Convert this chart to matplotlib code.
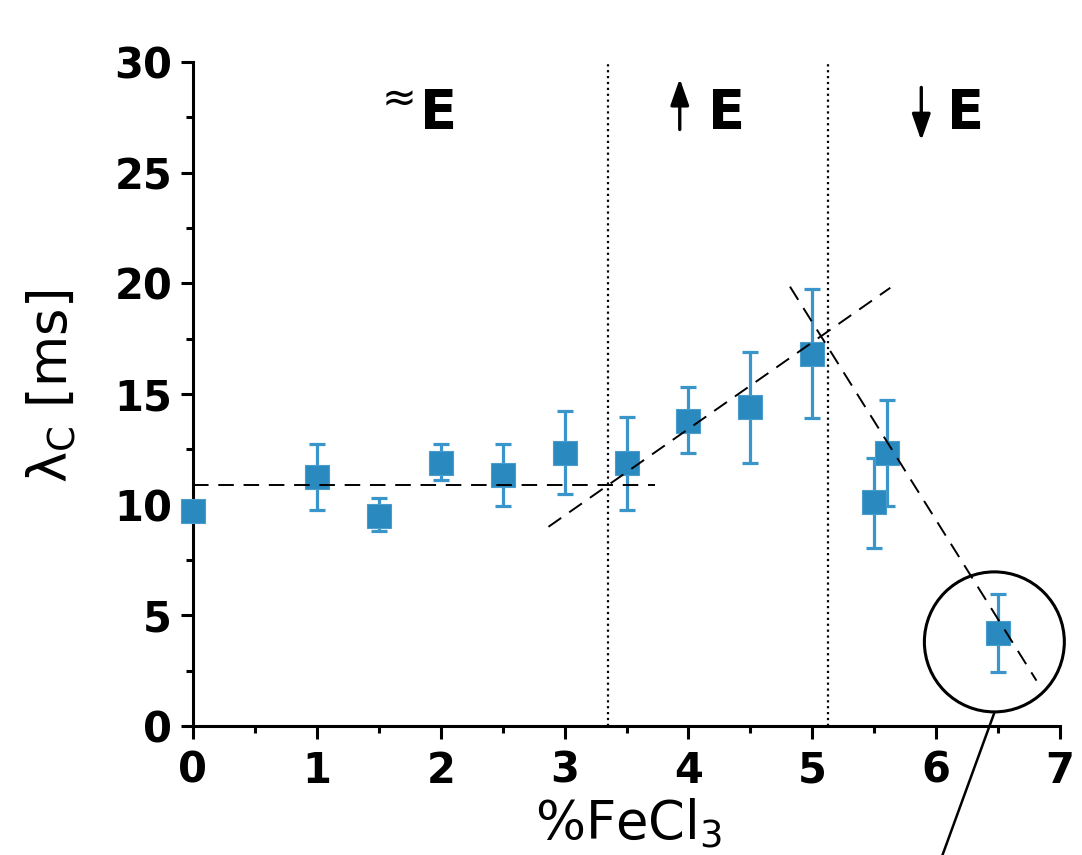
import matplotlib
matplotlib.use("Agg")
import matplotlib.pyplot as plt
from matplotlib.patches import Ellipse
import numpy as np

# ---------------- data ----------------
fecl3 = [0, 1, 1.5, 2, 2.5, 3, 3.5, 4, 4.5, 5, 5.5, 5.6, 6.5]
lam_c = [9.7, 11.25, 9.5, 11.9, 11.35, 12.35, 11.9, 13.8, 14.4, 16.8, 10.1, 12.35, 4.2]
err_hi = [9.95, 12.75, 10.3, 12.75, 12.75, 14.25, 13.95, 15.3, 16.9, 19.75, 12.1, 14.75, 5.95]
err_lo = [9.45, 9.75, 8.8, 11.1, 9.95, 10.5, 9.75, 12.35, 11.9, 13.9, 8.05, 9.95, 2.45]

# trend lines (start x, start y, end x, end y)
trend_flat = (0.0, 10.9, 3.73, 10.9)
trend_up = (2.87, 9.0, 5.63, 19.8)
trend_down = (4.82, 19.85, 6.81, 2.05)

# region boundaries
boundaries = [3.35, 5.13]

x_ticks = [0, 1, 2, 3, 4, 5, 6, 7]
y_ticks = [0, 5, 10, 15, 20, 25, 30]

# ---------------- figure ----------------
W, H = 1082, 855
fig = plt.figure(figsize=(W / 100, H / 100), dpi=100)
ax = fig.add_axes([193 / W, 1 - 726 / H, (1060 - 193) / W, (726 - 62) / H])

blue = "#2a89be"
blue_err = "#3a95ca"

y = np.array(lam_c)
yerr = np.vstack([y - np.array(err_lo), np.array(err_hi) - y])
ax.errorbar(fecl3, lam_c, yerr=yerr, fmt="none", ecolor=blue_err,
            elinewidth=2.3, capsize=5.5, capthick=2.3, zorder=2, clip_on=False)
ax.plot(fecl3, lam_c, ls="none", marker="s", ms=17.5, mfc=blue, mec="#4a9ccc",
        mew=0.8, zorder=3, clip_on=False)

for (x0, y0, x1, y1) in (trend_flat, trend_up, trend_down):
    ax.plot([x0, x1], [y0, y1], color="black", lw=1.4, dashes=(8, 5), zorder=4)

for xb in boundaries:
    ax.plot([xb, xb], [0, 30], color="black", lw=1.6, ls=":", zorder=1)

# circle highlight + leader line
circ = Ellipse((6.47, 3.8), width=140 / 123.9, height=140 / 22.13, fill=False,
               edgecolor="black", lw=2.2, clip_on=False, zorder=5)
ax.add_patch(circ)
ax.plot([6.47, 6.05], [0.6, -5.85], color="black", lw=1.8, clip_on=False, zorder=5)

# region labels
ax.text(1.66, 28.3, "≈", fontsize=30, ha="center", va="center")
ax.text(1.83, 27.0, "E", fontsize=39, fontweight="bold", ha="left", va="baseline")
ax.text(4.16, 27.0, "E", fontsize=39, fontweight="bold", ha="left", va="baseline")
ax.text(6.09, 27.0, "E", fontsize=39, fontweight="bold", ha="left", va="baseline")
ap = dict(arrowstyle="-|>,head_length=0.8,head_width=0.28", color="black",
          lw=2.4, shrinkA=0, shrinkB=0, mutation_scale=20)
ax.annotate("", xy=(3.93, 29.25), xytext=(3.93, 26.95), arrowprops=ap)
ax.annotate("", xy=(5.88, 26.45), xytext=(5.88, 28.85), arrowprops=ap)

# axes styling
ax.set_xlim(0, 7)
ax.set_ylim(0, 30)
for s in ("top", "right"):
    ax.spines[s].set_visible(False)
for s in ("left", "bottom"):
    ax.spines[s].set_linewidth(2.2)
ax.set_xticks(x_ticks)
ax.set_yticks(y_ticks)
ax.set_xticks(np.arange(0.5, 7, 1.0), minor=True)
ax.set_yticks(np.arange(2.5, 30, 5.0), minor=True)
ax.tick_params(which="major", direction="out", length=9, width=2.2,
               labelsize=30, pad=6)
ax.tick_params(axis="x", which="major", pad=8)
ax.tick_params(which="minor", direction="out", length=5, width=2.2)
for lab in ax.get_xticklabels() + ax.get_yticklabels():
    lab.set_fontweight("bold")

fig.text(52 / W, 1 - 386 / H, "λ$_\\mathrm{C}$ [ms]", rotation=90, fontsize=38,
         ha="center", va="center")
fig.text(629 / W, 1 - 840 / H, "%FeCl$_3$", fontsize=38, ha="center",
         va="baseline")

fig.savefig("out.png", dpi=100)
